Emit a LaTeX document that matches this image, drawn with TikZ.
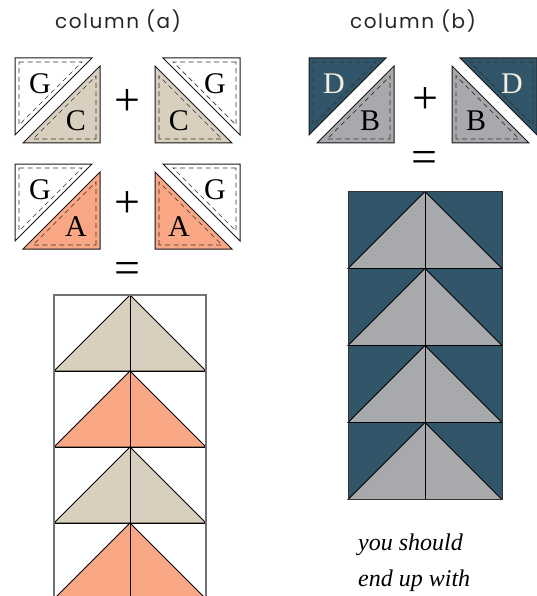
\documentclass[tikz,border=0pt]{standalone}
\usepackage{fontspec}
\setmainfont{Liberation Serif}
\newfontfamily\headfont[LetterSpace=8]{Poppins}
\usetikzlibrary{positioning}
\definecolor{sand}{RGB}{216,207,190}
\definecolor{coral}{RGB}{249,167,133}
\definecolor{slate}{RGB}{49,86,106}
\definecolor{pebble}{RGB}{168,169,173}
\definecolor{cream}{RGB}{243,238,224}

\begin{document}
\begin{tikzpicture}[x=1pt, y=-1pt,
  seam/.style={draw=black!90, line width=1pt},
  stitch/.style={draw=black!80, line width=0.7pt, dash pattern=on 5pt off 3.5pt},
  lbl/.style={font=\fontsize{30}{30}\selectfont, inner sep=0pt},
  sign/.style={font=\fontsize{46}{46}\selectfont, inner sep=0pt},
  head/.style={font=\headfont\fontsize{20}{20}\selectfont, text=black!85, inner sep=0pt},
  note/.style={font=\itshape\fontsize{24}{36}\selectfont, align=left, inner sep=0pt, anchor=north west},
  goose/.style={draw=black, line width=0.8pt}]
  \useasboundingbox (0,0) rectangle (537,596);
  \clip (0,0) rectangle (537,596);

  % headings
  \node[head] (heada) at (118,21) {column (a)};
  \node[head] (headb) at (413,21) {column (b)};

  % half-square triangle units
  \foreach \ox/\oy/\sx/\upc/\loc/\upl/\lol/\upt [count=\i] in {
      15/58/1/white/sand/G/C/black, 240/58/-1/white/sand/G/C/black,
      15/164/1/white/coral/G/A/black, 240/164/-1/white/coral/G/A/black,
      309/58/1/slate/pebble/D/B/cream, 537/58/-1/slate/pebble/D/B/cream}{
    \begin{scope}[shift={(\ox,\oy)}, xscale=\sx]
      \filldraw[seam, fill=\upc] (0,0) -- (77,0) -- (0,77) -- cycle;
      \draw[stitch] (4,4) -- (67,4) -- (4,67) -- cycle;
      \filldraw[seam, fill=\loc] (8,85) -- (85,85) -- (85,8) -- cycle;
      \draw[stitch] (81,81) -- (81,18) -- (18,81) -- cycle;
      \node[lbl, text=\upt] (up\i) at (25,26) {\upl};
      \node[lbl] (lo\i) at (61,63) {\lol};
    \end{scope}
  }

  % plus and equals
  \node[sign] (plusa1) at (127,103) {+};
  \node[sign] (plusa2) at (127,205) {+};
  \node[sign] (plusb) at (425,101) {+};
  \node[sign] (eqa) at (127,273) {=};
  \node[sign] (eqb) at (424,162) {=};

  % flying geese, column (a)
  \foreach \r/\c in {0/sand,1/coral,2/sand,3/coral}
    \filldraw[goose, fill=\c] (54,{371+76*\r}) -- (130,{295+76*\r}) -- (206,{371+76*\r}) -- cycle;
  \draw[goose] (130,295) -- (130,600);
  \foreach \r in {1,2,3} \draw[goose] (54,{295+76*\r}) -- (206,{295+76*\r});
  \draw[goose, draw=black!55, line width=1.2pt] (54,600) -- (54,295) -- (206,295) -- (206,600);

  % flying geese, column (b)
  \fill[slate] (348,191.5) rectangle (502,499.5);
  \foreach \r in {0,...,3}
    \filldraw[goose, fill=pebble] (348,{268.5+77*\r}) -- (425,{191.5+77*\r}) -- (502,{268.5+77*\r}) -- cycle;
  \draw[goose] (425,191.5) -- (425,499.5);
  \foreach \r in {1,2,3} \draw[goose] (348,{191.5+77*\r}) -- (502,{191.5+77*\r});
  \draw[goose, draw=black!80] (348,191.5) rectangle (502,499.5);

  % note
  \node[note] (note) at (358,534) {you should\\end up with};
\end{tikzpicture}
\end{document}
